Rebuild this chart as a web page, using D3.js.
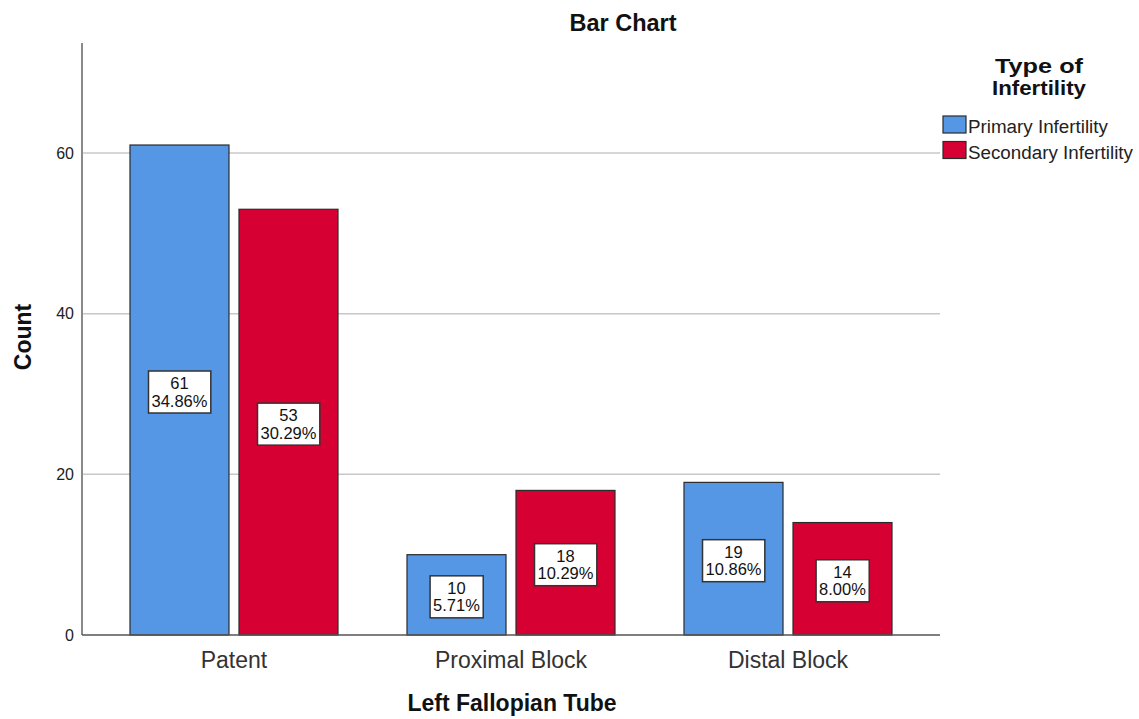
<!DOCTYPE html>
<html><head><meta charset="utf-8">
<script src="https://cdn.jsdelivr.net/npm/d3@7"></script>
<style>
body{margin:0;background:#fff;}
text{font-family:"Liberation Sans",Arial,sans-serif;}
</style></head>
<body><svg id="c" width="1139" height="719"></svg>
<script>
const categories = ["Patent", "Proximal Block", "Distal Block"];
const seriesNames = ["Primary Infertility", "Secondary Infertility"];
const primaryCounts = [61, 10, 19];
const secondaryCounts = [53, 18, 14];
const primaryPct = ["34.86%", "5.71%", "10.86%"];
const secondaryPct = ["30.29%", "10.29%", "8.00%"];
const yTicks = [0, 20, 40, 60];
const colors = ["#5596e5", "#d60032"];

const svg = d3.select("#c");
const L = 82, R = 940, T = 43, B = 635;

const x = d3.scaleBand().domain(categories).range([L, R]).paddingInner(0).paddingOuter(0.0487);
const xs = d3.scaleBand().domain(seriesNames).range([34.5, 242.5]).paddingInner(0.0917).paddingOuter(0);
const y = d3.scaleLinear().domain([0, 73.7]).range([B, T]);
const color = d3.scaleOrdinal().domain(seriesNames).range(colors);

const rows = [];
categories.forEach((c, i) => {
  rows.push({cat: c, s: seriesNames[0], v: primaryCounts[i], p: primaryPct[i]});
  rows.push({cat: c, s: seriesNames[1], v: secondaryCounts[i], p: secondaryPct[i]});
});

// title
svg.append("text").attr("x", 623).attr("y", 31).attr("text-anchor", "middle")
  .attr("font-size", 23.5).attr("font-weight", "bold").attr("fill", "#111").text("Bar Chart");

// gridlines
svg.append("g").selectAll("line").data(yTicks.filter(d => d > 0)).join("line")
  .attr("x1", L).attr("x2", R).attr("y1", d => y(d)).attr("y2", d => y(d))
  .attr("stroke", "#c8c8c8").attr("stroke-width", 1.5);

// y axis
const yAxis = d3.axisLeft(y).tickValues(yTicks).tickSize(0).tickPadding(8).tickFormat(d3.format("d"));
const gy = svg.append("g").attr("transform", `translate(${L},0)`).call(yAxis);
gy.select(".domain").remove();
gy.selectAll("text").attr("font-size", 16).attr("fill", "#222").attr("font-family", "Liberation Sans, Arial, sans-serif");
svg.append("line").attr("x1", L).attr("x2", L).attr("y1", T).attr("y2", B)
  .attr("stroke", "#8a8a8a").attr("stroke-width", 2);

// bars
svg.append("g").selectAll("rect").data(rows).join("rect")
  .attr("x", d => x(d.cat) + xs(d.s))
  .attr("y", d => y(d.v))
  .attr("width", xs.bandwidth())
  .attr("height", d => y(0) - y(d.v))
  .attr("fill", d => color(d.s))
  .attr("stroke", "#2b2b2b").attr("stroke-width", 1.2);

// x axis line
svg.append("line").attr("x1", L).attr("x2", R).attr("y1", B).attr("y2", B)
  .attr("stroke", "#555").attr("stroke-width", 1.5);

// x axis labels
const xAxis = d3.axisBottom(x).tickSize(0).tickPadding(0);
const gx = svg.append("g").attr("transform", `translate(0,${B})`).call(xAxis);
gx.select(".domain").remove();
gx.selectAll("text").attr("font-size", 23).attr("fill", "#333").attr("dy", null).attr("y", 33)
  .attr("font-family", "Liberation Sans, Arial, sans-serif");
gx.selectAll(".tick").attr("transform", d => `translate(${x(d) + (xs.range()[0] + xs.range()[1]) / 2},0)`);

// axis titles
svg.append("text").attr("x", 512).attr("y", 711).attr("text-anchor", "middle")
  .attr("font-size", 23).attr("font-weight", "bold").attr("fill", "#111").text("Left Fallopian Tube");
svg.append("text").attr("transform", "translate(31,337) rotate(-90)").attr("text-anchor", "middle")
  .attr("font-size", 23).attr("font-weight", "bold").attr("fill", "#111").text("Count");

// data labels
const lab = svg.append("g").selectAll("g").data(rows).join("g")
  .attr("transform", d => `translate(${x(d.cat) + xs(d.s) + xs.bandwidth()/2},${(y(d.v) + y(0))/2 + 2})`);
lab.each(function(d) {
  const g = d3.select(this);
  const t = g.append("text").attr("text-anchor", "middle").attr("font-size", 16.5).attr("fill", "#111");
  t.append("tspan").attr("x", 0).attr("y", -3).text(d.v);
  t.append("tspan").attr("x", 0).attr("y", 14.5).text(d.p);
  const bb = t.node().getBBox();
  g.insert("rect", "text")
    .attr("x", bb.x - 3).attr("y", -21).attr("width", bb.width + 6).attr("height", 42)
    .attr("fill", "#fff").attr("stroke", "#333").attr("stroke-width", 1.5);
});

// legend
const lg = svg.append("g");
lg.append("text").attr("x", 1039).attr("y", 73).attr("text-anchor", "middle")
  .attr("font-size", 21).attr("font-weight", "bold").attr("fill", "#111")
  .attr("textLength", 88).attr("lengthAdjust", "spacingAndGlyphs").text("Type of");
lg.append("text").attr("x", 1039).attr("y", 95).attr("text-anchor", "middle")
  .attr("font-size", 21).attr("font-weight", "bold").attr("fill", "#111")
  .attr("textLength", 94).attr("lengthAdjust", "spacingAndGlyphs").text("Infertility");
const li = lg.selectAll("g.item").data(seriesNames).join("g").attr("class", "item")
  .attr("transform", (d, i) => `translate(943,${116 + i * 25.5})`);
li.append("rect").attr("width", 23).attr("height", 17).attr("fill", d => color(d))
  .attr("stroke", "#2b2b2b").attr("stroke-width", 1.2);
li.append("text").attr("x", 25).attr("y", 17).attr("font-size", 18.8).attr("fill", "#222").text(d => d);
</script></body></html>
